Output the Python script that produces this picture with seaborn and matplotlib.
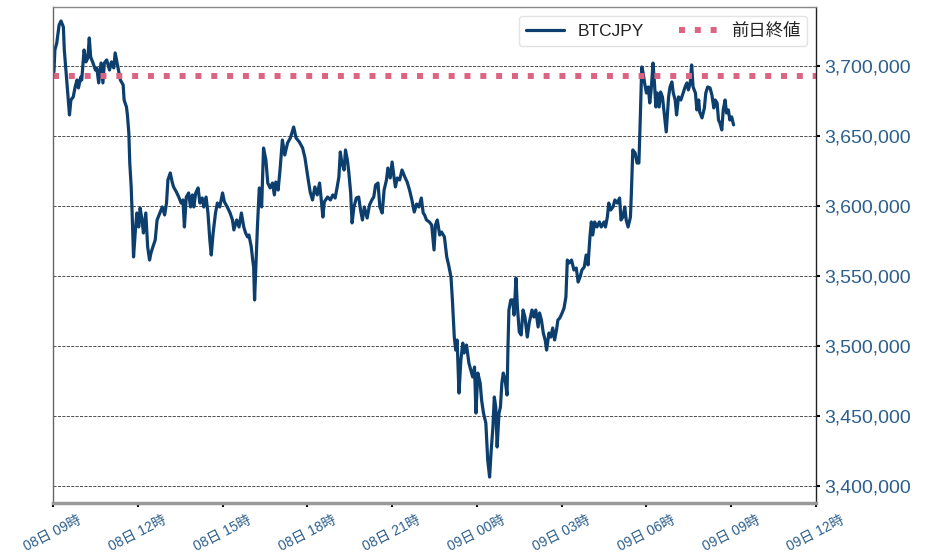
import pandas as pd
import seaborn as sns
import matplotlib
matplotlib.use('Agg')
import matplotlib.pyplot as plt
import matplotlib.dates as mdates
from matplotlib.ticker import FuncFormatter

# minutes after 08日 09:00 and BTCJPY price (yen)
minutes = [
    2, 4, 8, 13, 17, 22, 24, 29, 35, 38, 43, 47, 51, 54, 59, 61, 66, 70, 74, 77,
    80, 85, 90, 93, 97, 102, 106, 109, 114, 120, 124, 129, 132, 137, 143, 149, 151, 156, 158, 161,
    163, 166, 168, 171, 175, 178, 182, 185, 189, 192, 197, 201, 205, 208, 212, 217, 221, 227, 232, 237,
    241, 244, 249, 253, 256, 262, 267, 272, 276, 279, 283, 288, 292, 296, 299, 303, 308, 312, 317, 320,
    325, 329, 333, 336, 340, 345, 349, 354, 360, 364, 370, 376, 381, 384, 390, 395, 400, 405, 409, 413,
    416, 421, 424, 426, 428, 434, 438, 443, 447, 452, 456, 461, 466, 470, 473, 478, 482, 487, 492, 498,
    504, 511, 516, 523, 530, 535, 541, 546, 551, 556, 561, 566, 569, 573, 576, 583, 589, 594, 599, 603,
    607, 610, 613, 618, 621, 625, 628, 632, 635, 639, 644, 649, 653, 657, 661, 667, 672, 677, 681, 685,
    690, 694, 699, 703, 708, 711, 716, 720, 724, 727, 731, 736, 741, 747, 752, 757, 762, 767, 772, 777,
    782, 786, 789, 793, 799, 804, 809, 812, 816, 821, 825, 831, 836, 840, 845, 848, 852, 855, 858, 862,
    866, 870, 873, 878, 883, 887, 891, 895, 898, 902, 907, 910, 914, 919, 923, 927, 930, 934, 937, 940,
    943, 947, 950, 953, 956, 960, 964, 966, 968, 972, 976, 979, 983, 986, 990, 994, 998, 1002, 1007, 1011,
    1017, 1021, 1025, 1030, 1033, 1037, 1041, 1045, 1048, 1053, 1057, 1061, 1065, 1069, 1072, 1076, 1081, 1085, 1089, 1092,
    1096, 1101, 1106, 1111, 1115, 1119, 1123, 1128, 1132, 1136, 1140, 1143, 1146, 1150, 1155, 1160, 1164, 1170, 1173, 1177,
    1180, 1184, 1189, 1193, 1198, 1203, 1206, 1210, 1214, 1217, 1221, 1226, 1228, 1231, 1236, 1240, 1244, 1247, 1250, 1253,
    1256, 1260, 1264, 1267, 1270, 1274, 1277, 1280, 1283, 1287, 1290, 1294, 1297, 1302, 1307, 1310, 1314, 1317, 1321, 1324,
    1328, 1333, 1338, 1342, 1346, 1349, 1353, 1356, 1359, 1364, 1367, 1371, 1373, 1378, 1383, 1386, 1390, 1395, 1399, 1403,
    1406, 1410, 1413, 1416, 1420, 1423, 1427, 1430, 1434, 1437, 1441, 1445,
]
prices = [
    3695700, 3711400, 3716400, 3729300, 3732100, 3727900, 3711400, 3690000, 3665000, 3675700,
    3677900, 3685000, 3690000, 3684300, 3692100, 3690000, 3711400, 3702900, 3705700, 3720000,
    3706400, 3702100, 3697100, 3698600, 3687900, 3702100, 3687900, 3702100, 3704300, 3697100,
    3702900, 3698600, 3709300, 3700700, 3690000, 3686400, 3675700, 3670700, 3665000, 3652100,
    3630700, 3613600, 3595000, 3563600, 3582900, 3595000, 3585000, 3598600, 3590000, 3580700,
    3595000, 3570700, 3561400, 3566400, 3570700, 3575700, 3590000, 3595000, 3599300, 3593600,
    3602100, 3618600, 3623600, 3617100, 3613600, 3610000, 3606400, 3602100, 3604300, 3585000,
    3606400, 3609300, 3599300, 3607900, 3599300, 3609300, 3612900, 3602100, 3605700, 3599300,
    3606400, 3595000, 3575700, 3565000, 3580700, 3595000, 3602100, 3599300, 3609300, 3602900,
    3599300, 3595000, 3590000, 3582900, 3590000, 3585000, 3595000, 3585000, 3580700, 3577900,
    3579300, 3570700, 3561400, 3556400, 3532900, 3585000, 3612900, 3599300, 3641400, 3632900,
    3616400, 3612900, 3616400, 3607900, 3617100, 3611400, 3625700, 3647100, 3636400, 3645000,
    3648600, 3656400, 3648600, 3645700, 3641400, 3634300, 3620700, 3610000, 3604300, 3613600,
    3607900, 3616400, 3606400, 3592100, 3602900, 3606400, 3604300, 3607900, 3605700, 3612900,
    3620700, 3638600, 3631400, 3625700, 3640000, 3632900, 3624300, 3609300, 3587900, 3599300,
    3605700, 3606400, 3597100, 3590000, 3599300, 3591400, 3600700, 3604300, 3606400, 3615000,
    3616400, 3599300, 3595000, 3611400, 3618600, 3627100, 3620000, 3631400, 3620700, 3613600,
    3620000, 3618600, 3625700, 3620700, 3617100, 3611400, 3604300, 3595700, 3601400, 3599300,
    3605700, 3595000, 3593600, 3590000, 3588600, 3586400, 3568600, 3586400, 3590000, 3579300,
    3581400, 3577900, 3563600, 3557900, 3549300, 3532900, 3506400, 3497100, 3504300, 3466400,
    3490000, 3502100, 3495000, 3500700, 3487900, 3482900, 3477900, 3485000, 3452100, 3480700,
    3473600, 3461400, 3452100, 3445000, 3418600, 3406400, 3423600, 3442100, 3463600, 3456400,
    3427900, 3452100, 3456400, 3473600, 3480700, 3475700, 3465000, 3499300, 3525700, 3532900,
    3532900, 3522100, 3548600, 3527900, 3510000, 3507900, 3525700, 3520700, 3506400, 3516400,
    3525700, 3520700, 3525700, 3513600, 3523600, 3518600, 3509300, 3504300, 3497100, 3509300,
    3506400, 3512900, 3504300, 3511400, 3518600, 3520000, 3523600, 3527100, 3535000, 3561400,
    3559300, 3561400, 3554300, 3555700, 3545700, 3549300, 3554300, 3556400, 3565000, 3557900,
    3577900, 3588600, 3579300, 3588600, 3585000, 3588600, 3585000, 3588600, 3585000, 3592100,
    3602100, 3597100, 3599300, 3604300, 3602100, 3605700, 3590000, 3592100, 3599300, 3590000,
    3585000, 3592100, 3609300, 3640000, 3637900, 3630700, 3630700, 3663600, 3699300, 3695000,
    3687900, 3680700, 3685000, 3673600, 3682900, 3702100, 3687900, 3670700, 3680700, 3670700,
    3681400, 3677900, 3668600, 3652900, 3677900, 3685000, 3688600, 3680700, 3675700, 3665000,
    3677900, 3675700, 3680700, 3685000, 3687900, 3682900, 3687900, 3700700, 3685000, 3680700,
    3668600, 3675700, 3667100, 3662900, 3670000, 3680700, 3685000, 3684300, 3679300, 3670000,
    3675700, 3673600, 3661400, 3659300, 3654300, 3668600, 3675700, 3666400, 3668600, 3661400,
    3663600, 3657900,
]
prev_close = 3692800
y_ticks = [3400000, 3450000, 3500000, 3550000, 3600000, 3650000, 3700000]

start = pd.Timestamp('2023-04-08 09:00')
df = pd.DataFrame({
    'time': start + pd.to_timedelta(minutes, unit='m'),
    'price': prices,
})

sns.set_theme(style='white')
plt.rcParams['font.family'] = ['Liberation Sans', 'Noto Sans CJK JP', 'DejaVu Sans']

label_color = '#2d5f8c'

fig = plt.figure(figsize=(9.45, 5.55), dpi=100)
ax = fig.add_axes([53 / 945, 1 - 503 / 555, (816 - 53) / 945, (503 - 7) / 555])

sns.lineplot(data=df, x='time', y='price', ax=ax, color='#0d3f6e',
             linewidth=2.3, label='BTCJPY')
ax.axhline(prev_close, color='#dc6482', linewidth=4.3, linestyle=':',
           label='前日終値')

ax.set_xlim(start, start + pd.Timedelta(hours=27))
ax.set_ylim(3387900, 3742100)
ax.set_yticks(y_ticks)
ax.yaxis.tick_right()
ax.yaxis.set_major_formatter(FuncFormatter(lambda v, _: f'{v:,.0f}'))
ax.xaxis.set_major_locator(mdates.HourLocator(byhour=range(0, 24, 3)))
ax.xaxis.set_major_formatter(mdates.DateFormatter('%d日 %H時'))
ax.set_xlabel('')
ax.set_ylabel('')

ax.grid(axis='y', color='#333333', linestyle='--', linewidth=0.6)
ax.grid(axis='x', visible=False)

ax.tick_params(axis='y', which='major', right=True, left=False, length=3,
               width=1.5, color='black', labelsize=14, labelcolor=label_color, pad=3)
ax.tick_params(axis='x', which='major', bottom=True, length=3, width=1.5,
               color='black', labelsize=10, labelcolor=label_color, pad=4)
for lbl in ax.get_xticklabels():
    lbl.set_rotation(27)
    lbl.set_ha('center')

ax.spines['top'].set_color('#888888')
ax.spines['left'].set_color('#666666')
ax.spines['right'].set_color('#222222')
ax.spines['bottom'].set_color('#999999')
ax.spines['bottom'].set_linewidth(2.5)
for s in ['top', 'left', 'right']:
    ax.spines[s].set_linewidth(1.0)

leg = ax.legend(loc='upper right', ncol=2, fontsize=12.5, frameon=True,
                fancybox=True, columnspacing=2.0, handlelength=2.2)
leg.get_frame().set_edgecolor('#dddddd')
for t in leg.get_texts():
    t.set_color('#222222')

fig.savefig('out.png', dpi=100)
